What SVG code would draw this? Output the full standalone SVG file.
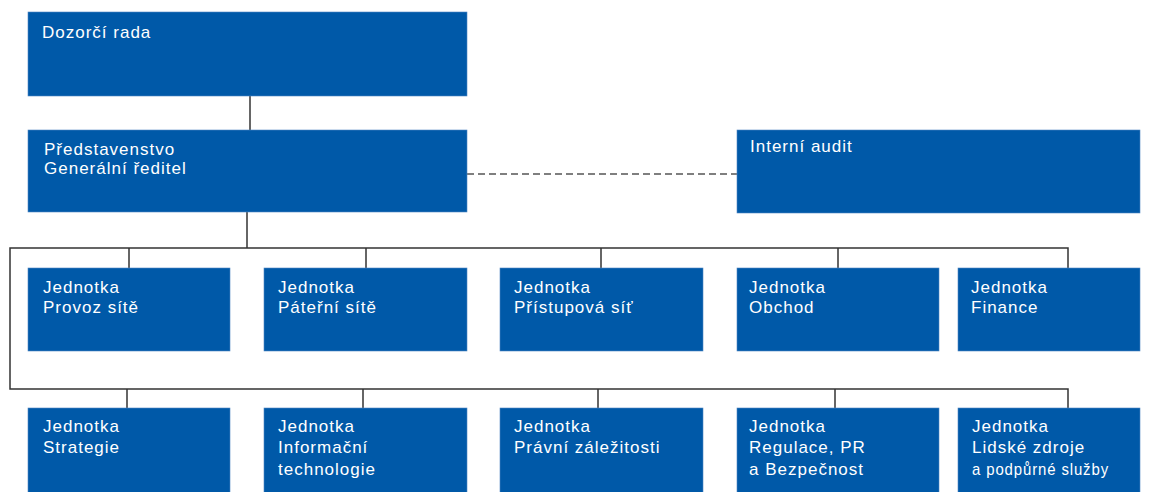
<svg xmlns="http://www.w3.org/2000/svg" width="1160" height="492" viewBox="0 0 1160 492">
<style>
.box{fill:#0059A8;stroke:#4f86c2;stroke-width:0.6}
.t{font-family:"Liberation Sans",Arial,sans-serif;font-size:17px;fill:#ffffff;letter-spacing:1px}
.c{fill:none;stroke:#333333;stroke-width:1.5}
.d{fill:none;stroke:#555555;stroke-width:1.5;stroke-dasharray:7 4}
</style>
<rect width="1160" height="492" fill="#ffffff"/>
<g id="connectors">
<line class="c" x1="250" y1="96" x2="250" y2="130"/>
<line class="d" x1="467" y1="174" x2="737" y2="174"/>
<line class="c" x1="247" y1="212" x2="247" y2="248"/>
<polyline class="c" points="1068,268 1068,248 10,248 10,389 1068,389 1068,408"/>
<line class="c" x1="129" y1="248" x2="129" y2="268"/>
<line class="c" x1="366" y1="248" x2="366" y2="268"/>
<line class="c" x1="601" y1="248" x2="601" y2="268"/>
<line class="c" x1="838" y1="248" x2="838" y2="268"/>
<line class="c" x1="127" y1="389" x2="127" y2="408"/>
<line class="c" x1="363" y1="389" x2="363" y2="408"/>
<line class="c" x1="598" y1="389" x2="598" y2="408"/>
<line class="c" x1="835" y1="389" x2="835" y2="408"/>
</g>
<g id="dozorci-rada"><rect class="box" x="28" y="12" width="439" height="84"/><text class="t" x="42" y="38">Dozorčí rada</text></g>
<g id="predstavenstvo"><rect class="box" x="28" y="130" width="439" height="82"/><text class="t" x="44" y="155">Představenstvo</text><text class="t" x="44" y="174">Generální ředitel</text></g>
<g id="interni-audit"><rect class="box" x="737" y="130" width="403" height="83"/><text class="t" x="750" y="152">Interní audit</text></g>
<g id="provoz-site"><rect class="box" x="28" y="268" width="202" height="83"/><text class="t" x="43" y="293">Jednotka</text><text class="t" x="43" y="313">Provoz sítě</text></g>
<g id="paterni-site"><rect class="box" x="264" y="268" width="203" height="83"/><text class="t" x="278" y="293">Jednotka</text><text class="t" x="278" y="313">Páteřní sítě</text></g>
<g id="pristupova-sit"><rect class="box" x="500" y="268" width="203" height="83"/><text class="t" x="514" y="293">Jednotka</text><text class="t" x="514" y="313">Přístupová síť</text></g>
<g id="obchod"><rect class="box" x="737" y="268" width="202" height="83"/><text class="t" x="749" y="293">Jednotka</text><text class="t" x="749" y="313">Obchod</text></g>
<g id="finance"><rect class="box" x="958" y="268" width="182" height="83"/><text class="t" x="971" y="293">Jednotka</text><text class="t" x="971" y="313">Finance</text></g>
<g id="strategie"><rect class="box" x="28" y="408" width="202" height="90"/><text class="t" x="43" y="432">Jednotka</text><text class="t" x="43" y="453">Strategie</text></g>
<g id="it"><rect class="box" x="264" y="408" width="203" height="90"/><text class="t" x="278" y="432">Jednotka</text><text class="t" x="278" y="453">Informační</text><text class="t" x="278" y="475">technologie</text></g>
<g id="pravni"><rect class="box" x="500" y="408" width="203" height="90"/><text class="t" x="514" y="432">Jednotka</text><text class="t" x="514" y="453">Právní záležitosti</text></g>
<g id="regulace"><rect class="box" x="737" y="408" width="202" height="90"/><text class="t" x="749" y="432">Jednotka</text><text class="t" x="749" y="453">Regulace, PR</text><text class="t" x="749" y="475">a Bezpečnost</text></g>
<g id="lidske-zdroje"><rect class="box" x="958" y="408" width="182" height="90"/><text class="t" x="972" y="432">Jednotka</text><text class="t" x="972" y="453">Lidské zdroje</text><text class="t" x="972" y="475" textLength="137" lengthAdjust="spacingAndGlyphs">a podpůrné služby</text></g>
</svg>
